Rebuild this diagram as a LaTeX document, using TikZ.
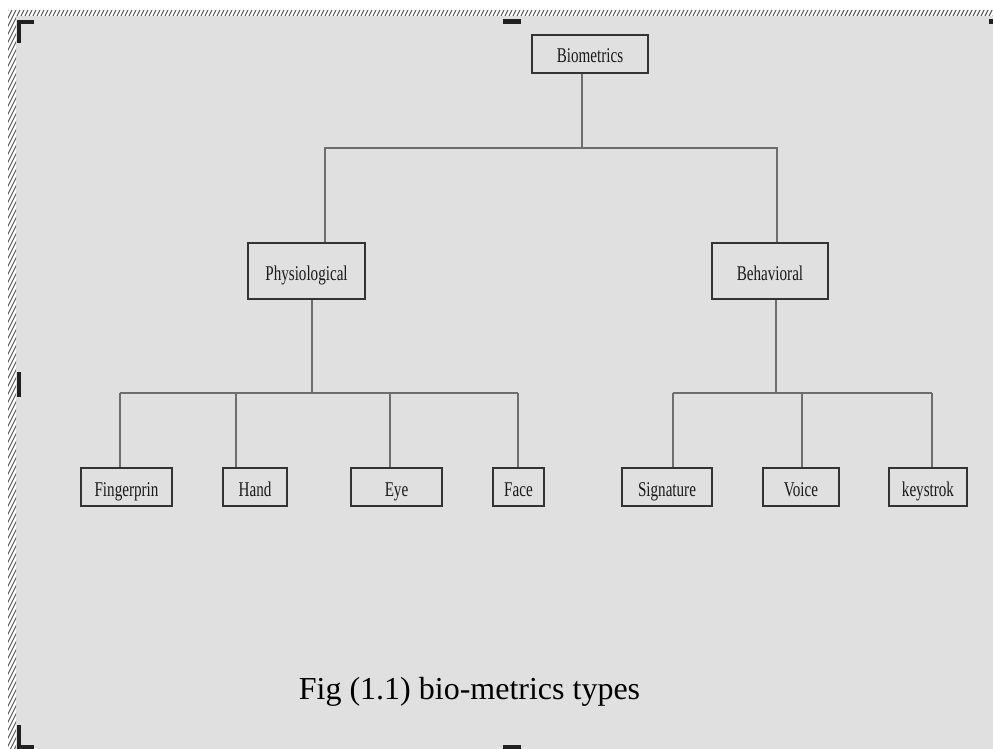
\documentclass[tikz,border=0pt]{standalone}
\usepackage{graphicx}
\usepackage{fontspec}
\setmainfont{Liberation Serif}
\newfontfamily\labelfont{Liberation Serif}
\definecolor{pagebg}{HTML}{E0E0E0}
\definecolor{hatchgray}{HTML}{5A5A5A}
\definecolor{markblack}{HTML}{202020}
\definecolor{linegray}{HTML}{6E6E6E}
\definecolor{boxline}{HTML}{333333}
\newcommand{\narrow}[1]{\scalebox{0.72}[1]{#1}}
\tikzset{
  box/.style={draw=boxline, line width=1.4pt, rectangle, inner sep=0pt,
    text height=19pt, text depth=1pt,
    font=\labelfont\fontsize{21}{25}\selectfont, text=black!90},
  conn/.style={draw=linegray, line width=1.8pt},
  cropmark/.style={fill=markblack, draw=none},
}
\begin{document}
\begin{tikzpicture}[x=1pt, y=-1pt]
  \useasboundingbox (0,0) rectangle (993,749);
  % canvas and frame
  \fill[white] (0,0) rectangle (993,749);
  \fill[pagebg] (16,16) rectangle (993,749);
  % hatched frame strips
  \begin{scope}
    \clip (8,10) rectangle (993,16) (8,16) rectangle (16,749);
    \foreach \k in {0,4,...,1760}
      \draw[hatchgray, line width=1.1pt] (\k,10) -- (\k-380,770);
  \end{scope}
  % corner and edge marks
  \fill[cropmark] (17,20) rectangle (34,24);
  \fill[cropmark] (17,20) rectangle (21,43);
  \fill[cropmark] (503,19) rectangle (521,24);
  \fill[cropmark] (989,19) rectangle (993,24);
  \fill[cropmark] (17,372) rectangle (21,397);
  \fill[cropmark] (17,725) rectangle (21,749);
  \fill[cropmark] (17,745) rectangle (34,749);
  \fill[cropmark] (503,745) rectangle (521,749);

  % nodes
  \node[box, minimum width=116pt, minimum height=38pt] (bio)  at (590,54)    {\narrow{Biometrics}};
  \node[box, minimum width=117pt, minimum height=56pt] (phys) at (306.5,271) {\narrow{Physiological}};
  \node[box, minimum width=116pt, minimum height=56pt] (beh)  at (770,271)   {\narrow{Behavioral}};
  \node[box, minimum width=91pt, minimum height=38pt]  (fing) at (126.5,487) {\narrow{Fingerprin}};
  \node[box, minimum width=64pt, minimum height=38pt]  (hand) at (255,487)   {\narrow{Hand}};
  \node[box, minimum width=91pt, minimum height=38pt]  (eye)  at (396.5,487) {\narrow{Eye}};
  \node[box, minimum width=51pt, minimum height=38pt]  (face) at (518.5,487) {\narrow{Face}};
  \node[box, minimum width=90pt, minimum height=38pt]  (sig)  at (667,487)   {\narrow{Signature}};
  \node[box, minimum width=76pt, minimum height=38pt]  (voice) at (801,487)  {\narrow{Voice}};
  \node[box, minimum width=78pt, minimum height=38pt]  (key)  at (928,487)   {\narrow{keystrok}};

  % junction points of the tree
  \coordinate (top) at (582,148);
  \coordinate (tl) at (325,148);
  \coordinate (tr) at (777,148);
  \coordinate (pj) at (312,393);
  \coordinate (bj) at (776,393);
  \coordinate (p1) at (120,393);
  \coordinate (p2) at (236,393);
  \coordinate (p3) at (390,393);
  \coordinate (p4) at (518,393);
  \coordinate (b1) at (673,393);
  \coordinate (b2) at (802,393);
  \coordinate (b3) at (932,393);

  % connectors
  \draw[conn] (bio.south -| top) -- (top);
  \draw[conn] (phys.north -| tl) -- (tl) -- (tr) -- (beh.north -| tr);
  \draw[conn] (phys.south -| pj) -- (pj);
  \draw[conn] (p1) -- (p4);
  \draw[conn] (p1) -- (fing.north -| p1);
  \draw[conn] (p2) -- (hand.north -| p2);
  \draw[conn] (p3) -- (eye.north -| p3);
  \draw[conn] (p4) -- (face.north -| p4);
  \draw[conn] (beh.south -| bj) -- (bj);
  \draw[conn] (b1) -- (b3);
  \draw[conn] (b1) -- (sig.north -| b1);
  \draw[conn] (b2) -- (voice.north -| b2);
  \draw[conn] (b3) -- (key.north -| b3);

  % caption
  \node[anchor=base, inner sep=0pt, font=\fontsize{32}{38}\selectfont] (cap) at (469.5,699) {Fig (1.1) bio-metrics types};
\end{tikzpicture}
\end{document}
